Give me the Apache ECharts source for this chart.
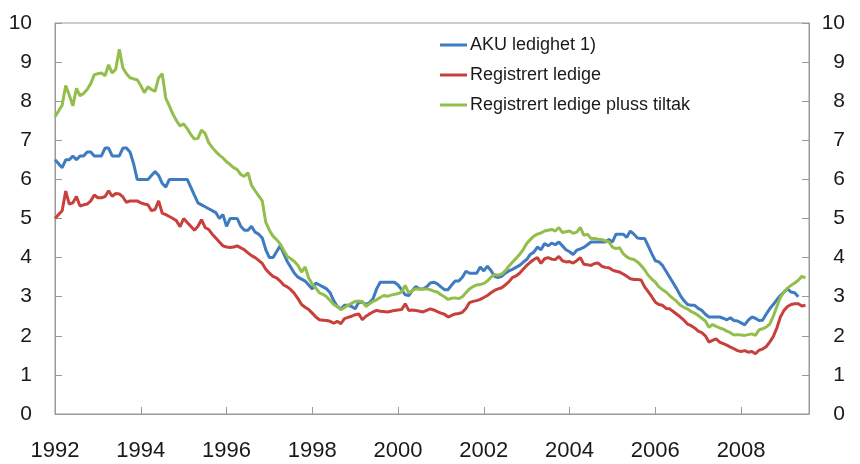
<!DOCTYPE html>
<html>
<head>
<meta charset="utf-8">
<script src="https://cdn.jsdelivr.net/npm/echarts@6/dist/echarts.min.js"></script>
<style>
  html, body { margin: 0; padding: 0; background: #fff; }
  #chart { width: 860px; height: 464px; }
</style>
</head>
<body>
<div id="chart"></div>
<script>
// Monthly data, first value = January 1992
const startYear = 1992;
const lastMonthIndex = 211; // axis runs to August 2009

const seriesNames = ['AKU ledighet 1)', 'Registrert ledige', 'Registrert ledige pluss tiltak'];

const akuLedighet = [
  6.5, 6.4, 6.3, 6.5, 6.5, 6.6, 6.5, 6.6, 6.6, 6.7, 6.7, 6.6,
  6.6, 6.6, 6.8, 6.8, 6.6, 6.6, 6.6, 6.8, 6.8, 6.7, 6.4, 6.0,
  6.0, 6.0, 6.0, 6.1, 6.2, 6.1, 5.9, 5.8, 6.0, 6.0, 6.0, 6.0,
  6.0, 6.0, 5.8, 5.6, 5.4, 5.35, 5.3, 5.25, 5.2, 5.15, 5.0, 5.1,
  4.8, 5.0, 5.0, 5.0, 4.8, 4.7, 4.7, 4.8, 4.65, 4.6, 4.5, 4.2,
  4.0, 4.0, 4.15, 4.3, 4.1, 3.9, 3.75, 3.6, 3.5, 3.45, 3.4, 3.3,
  3.2, 3.35, 3.3, 3.25, 3.2, 3.1, 2.9, 2.75, 2.69, 2.78, 2.78, 2.75,
  2.69, 2.86, 2.86, 2.8, 2.85, 2.95, 3.2, 3.37, 3.37, 3.37, 3.37, 3.37,
  3.3, 3.18, 3.05, 3.03, 3.16, 3.26, 3.2, 3.2, 3.25, 3.35, 3.37, 3.33,
  3.25, 3.18, 3.18, 3.3, 3.4, 3.4, 3.5, 3.65, 3.6, 3.6, 3.6, 3.76,
  3.66, 3.78, 3.67, 3.52, 3.49, 3.52, 3.6, 3.66, 3.7, 3.75, 3.8, 3.88,
  3.95, 4.08, 4.14, 4.27, 4.2, 4.36, 4.3, 4.37, 4.33, 4.4, 4.3, 4.2,
  4.15, 4.08, 4.19, 4.22, 4.26, 4.33, 4.4, 4.4, 4.4, 4.4, 4.4, 4.46,
  4.4, 4.6, 4.6, 4.6, 4.52, 4.68, 4.6, 4.5, 4.49, 4.49, 4.3, 4.1,
  3.92, 3.89, 3.8, 3.65, 3.5, 3.35, 3.2, 3.03, 2.9, 2.8, 2.78, 2.78,
  2.7, 2.65, 2.55, 2.48, 2.48, 2.48, 2.48, 2.45, 2.41, 2.46, 2.39, 2.38,
  2.33, 2.28, 2.4, 2.48, 2.45, 2.39, 2.4, 2.55, 2.69, 2.8, 2.92, 3.03,
  3.12, 3.2, 3.12, 3.1, 3.0
];

const registrertLedige = [
  5.0, 5.1, 5.2, 5.7, 5.37, 5.4, 5.56, 5.32, 5.35, 5.37, 5.45, 5.6,
  5.53, 5.53, 5.56, 5.71, 5.57, 5.64, 5.63, 5.55, 5.41, 5.45, 5.45, 5.45,
  5.4, 5.37, 5.35, 5.2, 5.23, 5.45, 5.14, 5.1, 5.05, 5.0, 4.94, 4.79,
  5.0, 4.9, 4.8, 4.7, 4.8, 4.97, 4.77, 4.72, 4.6, 4.5, 4.4, 4.3,
  4.27, 4.26, 4.27, 4.3, 4.25, 4.2, 4.12, 4.05, 4.0, 3.93, 3.85, 3.7,
  3.6, 3.52, 3.48, 3.4, 3.3, 3.25, 3.18, 3.08, 2.95, 2.8, 2.73, 2.67,
  2.58, 2.48, 2.41, 2.4, 2.39, 2.37, 2.32, 2.37, 2.31, 2.44, 2.47, 2.5,
  2.54, 2.56, 2.41, 2.5, 2.56, 2.61, 2.65, 2.63, 2.62, 2.61, 2.63, 2.65,
  2.66, 2.67, 2.82, 2.65, 2.66, 2.65, 2.63, 2.61, 2.65, 2.69, 2.66, 2.62,
  2.58, 2.55, 2.48, 2.52, 2.56, 2.57, 2.6, 2.7, 2.85, 2.88, 2.9, 2.93,
  2.98, 3.03, 3.1, 3.16, 3.2, 3.23, 3.3, 3.38, 3.49, 3.53, 3.6, 3.7,
  3.8, 3.88, 3.95, 4.0, 3.85, 3.97, 4.0, 3.96, 3.95, 4.03, 3.92, 3.89,
  3.9, 3.86, 3.92, 4.0, 3.83, 3.82, 3.8, 3.85, 3.86, 3.78, 3.75, 3.74,
  3.68, 3.65, 3.63, 3.58, 3.52, 3.46, 3.44, 3.44, 3.43, 3.25, 3.13, 3.0,
  2.86, 2.8, 2.78, 2.7, 2.69, 2.62, 2.55, 2.48, 2.4, 2.3, 2.26, 2.2,
  2.12, 2.08, 2.0, 1.84, 1.88, 1.92, 1.84, 1.8, 1.76, 1.71, 1.67, 1.62,
  1.6, 1.62, 1.58, 1.6, 1.54, 1.63, 1.66, 1.72, 1.84, 1.98, 2.2, 2.48,
  2.65, 2.75, 2.8, 2.82, 2.82, 2.76, 2.78
];

const registrertPlussTiltak = [
  7.6, 7.75, 7.9, 8.4, 8.15, 7.88, 8.33, 8.14, 8.2, 8.3, 8.45, 8.68,
  8.7, 8.72, 8.65, 8.93, 8.72, 8.82, 9.33, 8.85, 8.7, 8.6, 8.57, 8.55,
  8.4, 8.22, 8.37, 8.3, 8.25, 8.6, 8.7, 8.08, 7.88, 7.67, 7.5, 7.37,
  7.42, 7.3, 7.15, 7.03, 7.05, 7.26, 7.18, 6.94, 6.82, 6.71, 6.62, 6.55,
  6.45, 6.38, 6.3, 6.25, 6.12, 6.08, 6.17, 5.85, 5.71, 5.58, 5.45, 4.9,
  4.7, 4.55, 4.46, 4.35, 4.19, 4.03, 3.97, 3.9, 3.8, 3.63, 3.76, 3.48,
  3.32, 3.22, 3.1, 3.06, 3.0, 2.9, 2.8, 2.74, 2.67, 2.72, 2.78, 2.83,
  2.88, 2.89, 2.88, 2.75, 2.82, 2.88, 2.92, 2.98, 3.03, 3.01, 3.04, 3.06,
  3.08, 3.12, 3.29, 3.09, 3.16, 3.2, 3.2, 3.2, 3.2, 3.18, 3.14, 3.12,
  3.05, 3.0, 2.93, 2.96, 2.97, 2.95, 3.0, 3.1, 3.2, 3.26, 3.3, 3.31,
  3.34, 3.4, 3.5, 3.57, 3.55, 3.58, 3.66, 3.78, 3.88, 3.98, 4.08, 4.2,
  4.36, 4.46, 4.55, 4.6, 4.63, 4.68, 4.7, 4.72, 4.68, 4.77, 4.64, 4.66,
  4.68, 4.62, 4.65, 4.77, 4.57, 4.6, 4.49, 4.49, 4.47, 4.46, 4.43, 4.4,
  4.27, 4.23, 4.25, 4.1, 4.02, 3.97, 3.95, 3.89, 3.8, 3.69, 3.55, 3.45,
  3.37, 3.25, 3.18, 3.12, 3.03, 2.95, 2.88, 2.78, 2.73, 2.69, 2.62, 2.58,
  2.52, 2.45, 2.38, 2.22, 2.29, 2.24, 2.2, 2.17, 2.12, 2.08, 2.02, 2.03,
  2.02, 2.01, 2.03, 2.05, 2.01, 2.15, 2.18, 2.22, 2.3, 2.5, 2.75, 2.98,
  3.12, 3.22, 3.29, 3.35, 3.42, 3.52, 3.48
];

const yMin = 0, yMax = 10, yStep = 1;
const xStep = 2;

const colors = ['#3E7BC0', '#C8403B', '#93BE4B'];
const FONT = 'Liberation Sans, Arial, sans-serif';
const AXIS_GREY = '#9a9a9a';

function toPoints(arr) {
  return arr.map((v, i) => [startYear + i / 12, v]);
}

const chart = echarts.init(document.getElementById('chart'), null, { renderer: 'canvas' });

const yAxisCommon = {
  type: 'value',
  min: yMin,
  max: yMax,
  interval: yStep,
  splitLine: { show: false },
  axisLine: { show: true, lineStyle: { color: AXIS_GREY, width: 1 } },
  axisTick: { show: true, inside: true, length: 7, lineStyle: { color: AXIS_GREY } }
};

chart.setOption({
  animation: false,
  backgroundColor: '#ffffff',
  color: colors,
  grid: {
    left: 55, right: 51, top: 23, bottom: 50,
    show: true, borderColor: AXIS_GREY, borderWidth: 1,
    containLabel: false
  },
  legend: {
    orient: 'vertical',
    left: 440,
    top: 36,
    padding: 0,
    itemGap: 12,
    itemWidth: 27,
    itemHeight: 3,
    icon: 'rect',
    data: seriesNames,
    textStyle: { fontFamily: FONT, fontSize: 18, color: '#1a1a1a', padding: [0, 0, 0, -2] }
  },
  xAxis: {
    type: 'value',
    min: startYear,
    max: startYear + lastMonthIndex / 12,
    interval: xStep,
    splitLine: { show: false },
    axisLine: { show: true, lineStyle: { color: AXIS_GREY } },
    axisTick: { show: true, inside: true, length: 7, lineStyle: { color: AXIS_GREY } },
    axisLabel: {
      margin: 26,
      fontFamily: FONT,
      fontSize: 22,
      color: '#1a1a1a',
      showMaxLabel: false,
      formatter: function (v) {
        return (Math.abs(v - Math.round(v)) < 1e-6 && Math.round(v) % 2 === 0) ? String(Math.round(v)) : '';
      }
    }
  },
  yAxis: [
    Object.assign({}, yAxisCommon, {
      position: 'left',
      axisLabel: { margin: 23, fontFamily: FONT, fontSize: 21, color: '#1a1a1a' }
    }),
    Object.assign({}, yAxisCommon, {
      position: 'right',
      axisLabel: { margin: 36, align: 'right', fontFamily: FONT, fontSize: 21, color: '#1a1a1a' }
    })
  ],
  series: [
    {
      name: seriesNames[0], type: 'line', yAxisIndex: 0,
      data: toPoints(akuLedighet),
      symbol: 'none', showSymbol: false,
      lineStyle: { width: 3, color: colors[0] }, itemStyle: { color: colors[0] }
    },
    {
      name: seriesNames[1], type: 'line', yAxisIndex: 0,
      data: toPoints(registrertLedige),
      symbol: 'none', showSymbol: false,
      lineStyle: { width: 3, color: colors[1] }, itemStyle: { color: colors[1] }
    },
    {
      name: seriesNames[2], type: 'line', yAxisIndex: 0,
      data: toPoints(registrertPlussTiltak),
      symbol: 'none', showSymbol: false,
      lineStyle: { width: 3, color: colors[2] }, itemStyle: { color: colors[2] }
    }
  ]
});
</script>
</body>
</html>
